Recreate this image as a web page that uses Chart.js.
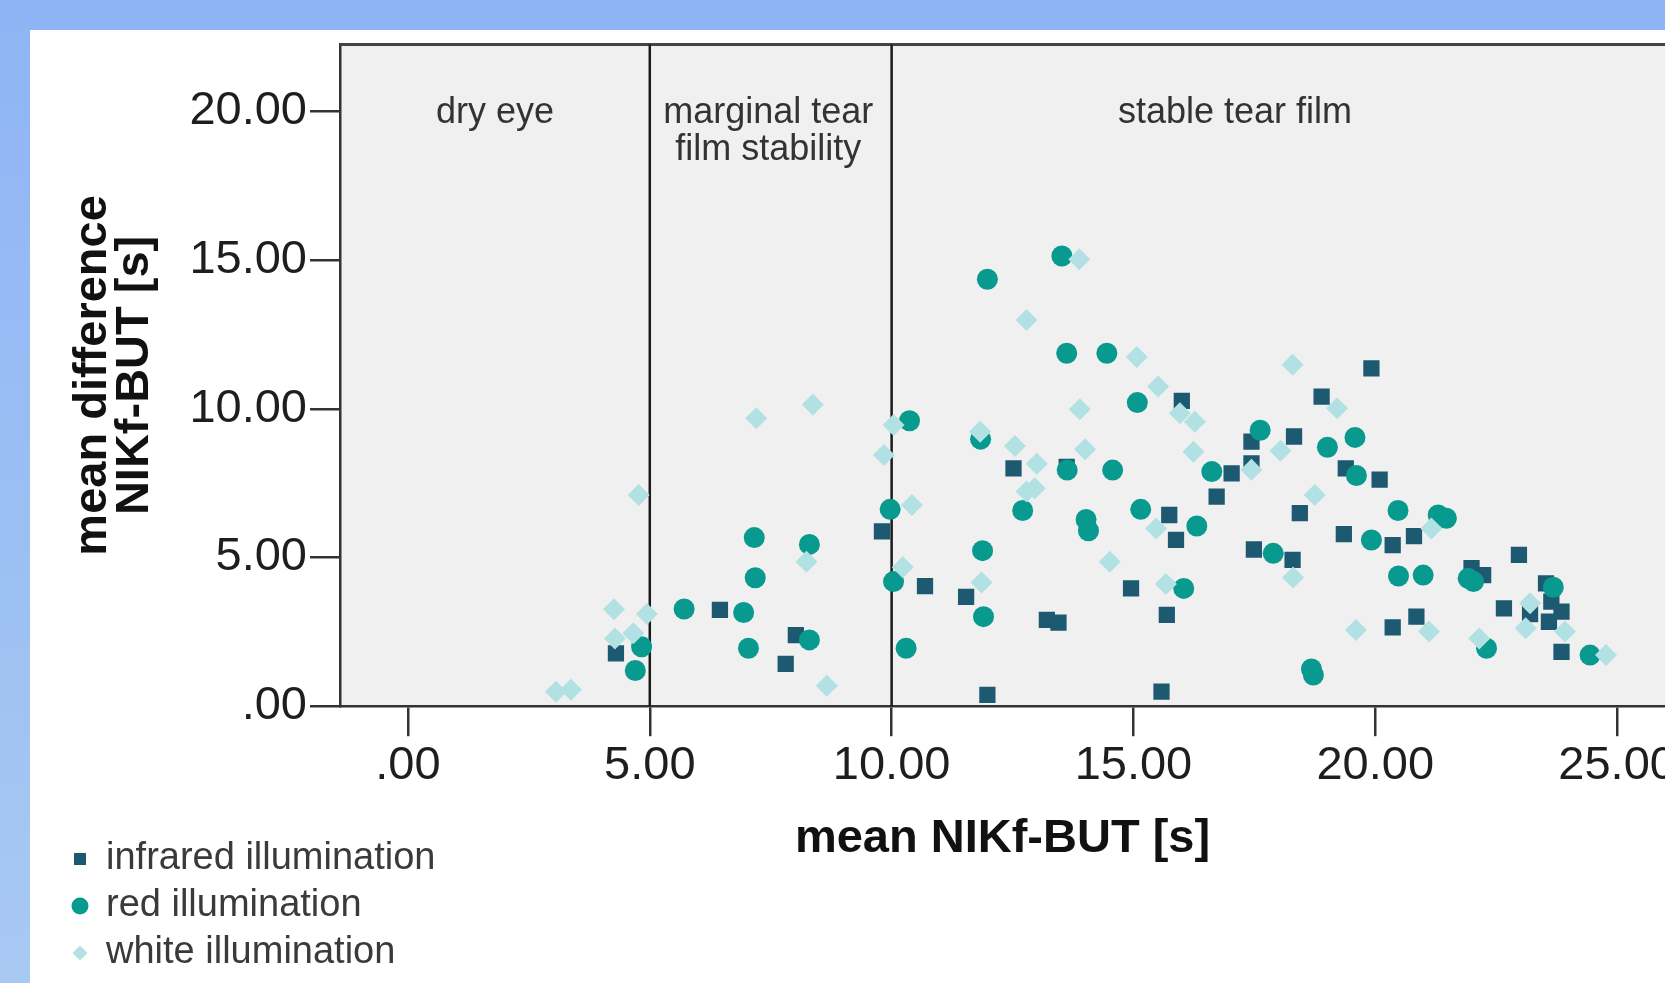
<!DOCTYPE html>
<html>
<head>
<meta charset="utf-8">
<title>NIKf-BUT</title>
<script src="https://cdn.jsdelivr.net/npm/chart.js@4.4.1/dist/chart.umd.min.js"></script>
<style>
  html, body { margin: 0; padding: 0; width: 1665px; height: 983px; overflow: hidden; }
  body { background: linear-gradient(180deg, #8fb4f5 0%, #a7c9f2 100%); position: relative; }
  #panel { position: absolute; left: 30px; top: 30px; width: 1635px; height: 953px; background: #fff; }
</style>
</head>
<body>
<div id="panel"><canvas id="butChart"></canvas></div>
<script>
// mean NIKf-BUT [s] vs mean difference [s]
const infraredPoints = [
  [4.30, 1.78], [6.45, 3.24], [7.81, 1.42], [8.02, 2.39], [9.80, 5.88], [10.69, 4.04], [11.54, 3.68],
  [11.98, 0.38], [12.52, 8.00], [13.21, 2.90], [13.45, 2.81], [13.62, 8.05], [14.95, 3.96], [15.58, 0.49],
  [15.69, 3.07], [15.74, 6.43], [15.88, 5.59], [16.00, 10.27], [16.72, 7.05], [17.03, 7.83], [17.44, 8.90],
  [17.44, 8.17], [17.49, 5.27], [18.29, 4.92], [18.32, 9.07], [18.44, 6.49], [18.89, 10.41], [19.35, 5.79],
  [19.39, 8.00], [19.92, 11.36], [20.09, 7.62], [20.36, 5.42], [20.36, 2.65], [20.80, 5.72], [20.85, 3.01],
  [21.99, 4.64], [22.23, 4.41], [22.66, 3.29], [22.97, 5.09], [23.20, 3.10], [23.53, 4.13], [23.59, 2.84],
  [23.64, 3.52], [23.85, 3.18], [23.85, 1.83]
];
const redPoints = [
  [4.70, 1.20], [4.83, 2.00], [5.71, 3.27], [6.94, 3.15], [7.04, 1.95], [7.16, 5.67], [7.18, 4.32],
  [8.30, 5.44], [8.30, 2.23], [9.97, 6.62], [10.04, 4.19], [10.30, 1.95], [10.37, 9.60], [11.84, 8.98],
  [11.88, 5.23], [11.90, 3.01], [11.98, 14.36], [12.71, 6.58], [13.52, 15.14], [13.62, 11.87], [13.63, 7.94],
  [14.02, 6.28], [14.07, 5.90], [14.45, 11.87], [14.57, 7.94], [15.08, 10.21], [15.15, 6.62], [16.04, 3.96],
  [16.31, 6.06], [16.62, 7.89], [17.62, 9.28], [17.89, 5.14], [18.68, 1.25], [18.72, 1.05], [19.01, 8.71],
  [19.58, 9.04], [19.61, 7.76], [19.92, 5.59], [20.47, 6.58], [20.48, 4.38], [20.99, 4.41], [21.30, 6.43],
  [21.47, 6.32], [21.92, 4.30], [22.03, 4.19], [22.30, 1.95], [23.68, 4.00], [24.44, 1.72]
];
const whitePoints = [
  [3.06, 0.49], [3.37, 0.55], [4.26, 3.26], [4.28, 2.28], [4.66, 2.45], [4.77, 7.10], [4.94, 3.10],
  [7.20, 9.68], [8.24, 4.86], [8.37, 10.15], [8.66, 0.69], [9.84, 8.45], [10.04, 9.46], [10.23, 4.67],
  [10.42, 6.77], [11.83, 9.23], [11.86, 4.16], [12.55, 8.75], [12.79, 12.99], [12.79, 7.22], [12.96, 7.33],
  [13.00, 8.15], [13.88, 15.03], [13.89, 9.99], [14.00, 8.64], [14.51, 4.86], [15.07, 11.74], [15.47, 5.98],
  [15.51, 10.75], [15.67, 4.11], [15.96, 9.85], [16.24, 8.56], [16.27, 9.57], [17.44, 7.95], [18.04, 8.59],
  [18.29, 11.48], [18.30, 4.33], [18.75, 7.10], [19.21, 10.02], [19.60, 2.56], [21.11, 2.51], [21.16, 5.98],
  [22.15, 2.28], [23.11, 2.62], [23.20, 3.46], [23.92, 2.51], [24.77, 1.72]
];

const seriesNames = ['infrared illumination', 'red illumination', 'white illumination'];
const xTicks = [0, 5, 10, 15, 20, 25];
const yTicks = [0, 5, 10, 15, 20];
const cutoffs = [5, 10];                 // dry eye / marginal / stable limits
const zoneNames = [['dry eye'], ['marginal tear', 'film stability'], ['stable tear film']];
const zoneCenters = [1.8, 7.45, 17.1];
const xTitle = 'mean NIKf-BUT [s]';
const yTitle = ['mean difference', 'NIKf-BUT [s]'];

const FONT = '"Liberation Sans", Arial, sans-serif';
const fmt = v => v === 0 ? '.00' : Number(v).toFixed(2);
const toXY = pts => pts.map(p => ({x: p[0], y: p[1]}));
// no automatic label padding, the plot runs to the right edge like the original
const noPad = s => { s.paddingTop = 0; s.paddingBottom = 0; s.paddingLeft = 0; s.paddingRight = 0; };

const sketchPlugin = {
    id: 'sketch',
    beforeDraw(chart) {
        const {ctx, chartArea: a} = chart;
        ctx.save();
        ctx.fillStyle = '#f0f0f0';
        ctx.fillRect(a.left, a.top, a.right - a.left, a.bottom - a.top);
        ctx.restore();
    },
    beforeDatasetsDraw(chart) {
        const {ctx, chartArea: a, scales: {x, y}} = chart;
        ctx.save();
        // top frame
        ctx.strokeStyle = '#444';
        ctx.lineWidth = 3;
        ctx.beginPath();
        ctx.moveTo(a.left, a.top);
        ctx.lineTo(a.right, a.top);
        ctx.stroke();
        // cut-off lines
        ctx.strokeStyle = '#1a1a1a';
        ctx.lineWidth = 2.5;
        cutoffs.forEach(v => {
            const px = x.getPixelForValue(v);
            ctx.beginPath();
            ctx.moveTo(px, a.top);
            ctx.lineTo(px, a.bottom);
            ctx.stroke();
        });
        // zone labels
        ctx.fillStyle = '#333';
        ctx.font = '36px ' + FONT;
        ctx.textAlign = 'center';
        ctx.textBaseline = 'middle';
        const top = y.getPixelForValue(19.96);
        zoneNames.forEach((lines, i) => {
            const px = x.getPixelForValue(zoneCenters[i]);
            lines.forEach((t, j) => ctx.fillText(t, px, top + j * 37));
        });
        ctx.restore();
    },
    afterDraw(chart) {
        // legend, bottom left
        const {ctx} = chart;
        ctx.save();
        ctx.font = '38px ' + FONT;
        ctx.textAlign = 'left';
        ctx.textBaseline = 'middle';
        chart.data.datasets.forEach((ds, i) => {
            const cx = 50, cy = 829 + i * 47;
            ctx.fillStyle = ds.backgroundColor;
            ctx.beginPath();
            if (ds.pointStyle === 'rect') {
                ctx.rect(cx - 6, cy - 6, 12, 12);
            } else if (ds.pointStyle === 'circle') {
                ctx.arc(cx, cy, 8.5, 0, Math.PI * 2);
            } else {
                ctx.moveTo(cx - 7.5, cy); ctx.lineTo(cx, cy - 7.5);
                ctx.lineTo(cx + 7.5, cy); ctx.lineTo(cx, cy + 7.5);
                ctx.closePath();
            }
            ctx.fill();
            ctx.fillStyle = '#3a3a3a';
            ctx.fillText(ds.label, 76, cy);
        });
        ctx.restore();
    }
};

const butChart = new Chart(document.getElementById('butChart').getContext('2d'), {
    type: 'scatter',
    data: {
        datasets: [{
            label: seriesNames[0],
            data: toXY(infraredPoints),
            pointStyle: 'rect',
            pointRadius: 11.5,
            backgroundColor: '#1d5a72',
            borderWidth: 0,
            order: 3
        }, {
            label: seriesNames[1],
            data: toXY(redPoints),
            pointStyle: 'circle',
            pointRadius: 10.5,
            backgroundColor: '#08998f',
            borderWidth: 0,
            order: 2
        }, {
            label: seriesNames[2],
            data: toXY(whitePoints),
            pointStyle: 'rectRot',
            pointRadius: 11,
            backgroundColor: '#b2e1e3',
            borderWidth: 0,
            order: 1
        }]
    },
    options: {
        responsive: true,
        maintainAspectRatio: false,
        animation: false,
        events: [],
        layout: {
            autoPadding: false,
            padding: {top: 14.6, left: 0, right: 0, bottom: 0}
        },
        plugins: {
            legend: {display: false},
            tooltip: {enabled: false}
        },
        scales: {
            x: {
                type: 'linear',
                min: -1.405,
                max: 25.99,
                afterBuildTicks: s => { s.ticks = xTicks.map(v => ({value: v})); },
                afterFit: s => { s.height = 276.8; noPad(s); },
                border: {display: true, color: '#333', width: 2.5},
                grid: {drawOnChartArea: false, drawTicks: true, tickLength: 30, color: '#333', lineWidth: 2.5},
                ticks: {
                    padding: 2,
                    color: '#1e1e1e',
                    maxRotation: 0,
                    autoSkip: false,
                    font: {size: 47, family: FONT},
                    callback: fmt
                },
                title: {
                    display: true,
                    text: xTitle,
                    color: '#111',
                    font: {size: 47, weight: 'bold', family: FONT, lineHeight: 1.2},
                    padding: {top: 0, bottom: 116}
                }
            },
            y: {
                type: 'linear',
                min: 0,
                max: 22.25,
                afterBuildTicks: s => { s.ticks = yTicks.map(v => ({value: v})); },
                afterFit: s => { s.width = 310; noPad(s); },
                border: {display: true, color: '#333', width: 2.5},
                grid: {drawOnChartArea: false, drawTicks: true, tickLength: 30, color: '#333', lineWidth: 2.5},
                ticks: {
                    padding: 3,
                    color: '#1e1e1e',
                    font: {size: 47, family: FONT},
                    callback: fmt
                },
                title: {
                    display: true,
                    text: yTitle,
                    color: '#111',
                    font: {size: 47, weight: 'bold', family: FONT, lineHeight: 0.9},
                    padding: {top: 42, bottom: 0}
                }
            }
        }
    },
    plugins: [sketchPlugin]
});
</script>
</body>
</html>
